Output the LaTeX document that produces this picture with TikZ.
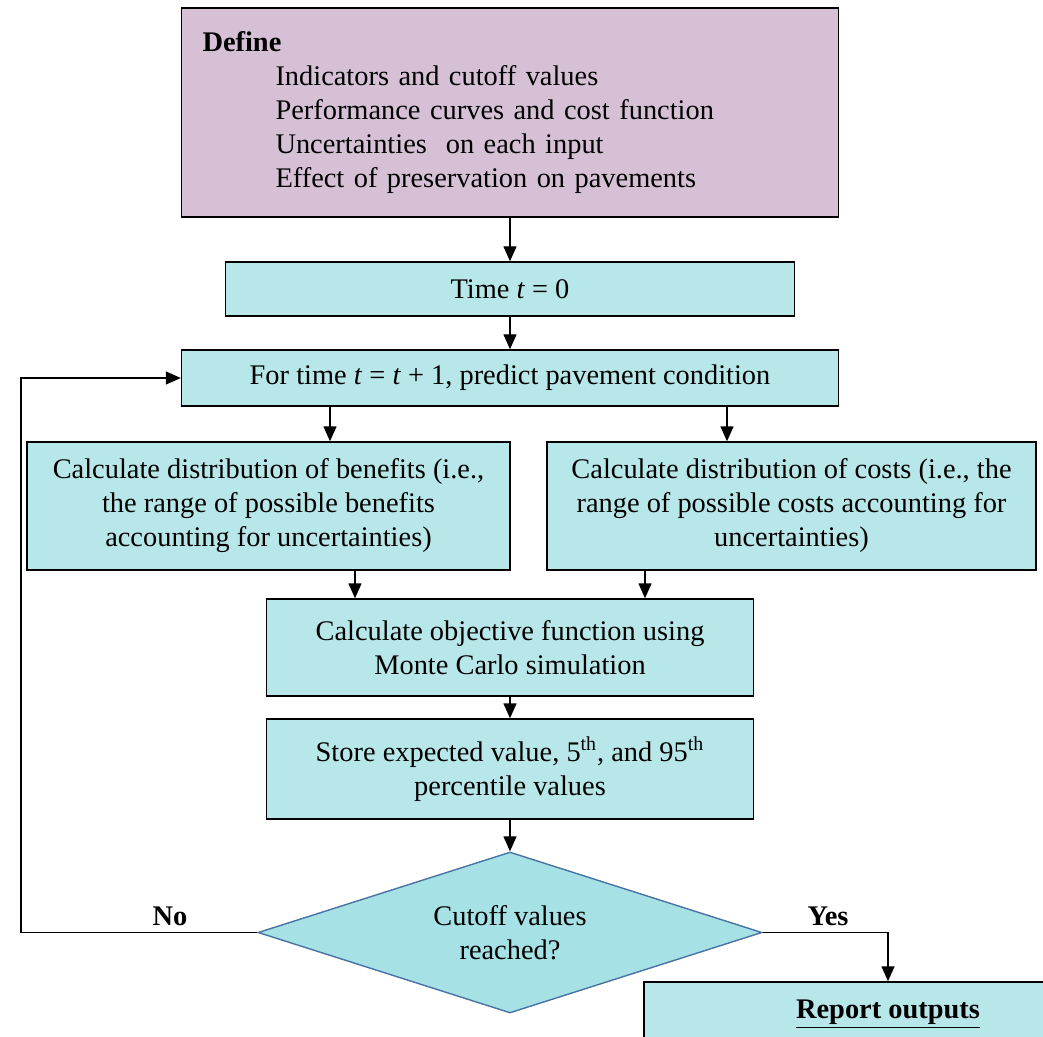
\documentclass[tikz,border=0pt]{standalone}
\usepackage{fontspec}
\setmainfont{Liberation Serif}
\usepackage{xcolor}
\usetikzlibrary{shapes.geometric,arrows.meta}

\definecolor{boxcyan}{RGB}{184,231,234}
\definecolor{definepurple}{RGB}{213,192,214}
\definecolor{decidecyan}{RGB}{166,225,230}
\definecolor{decideedge}{RGB}{72,115,162}

\begin{document}
\begin{tikzpicture}[x=0.5pt,y=-0.5pt,
		line width=0.7pt,
		>={Triangle[length=7.5pt,width=6.5pt]},
		font=\fontsize{14.2}{17}\selectfont,
		box/.style={draw, fill=boxcyan, align=center, inner sep=0pt},
		decide/.style={draw=decideedge, fill=decidecyan, shape=diamond,
			aspect=3, inner sep=0pt, align=center},
		lbl/.style={font=\fontsize{14.2}{17}\selectfont\bfseries}]
			\useasboundingbox (0,0) rectangle (1043,1037);
		
			\node[box, fill=definepurple, minimum width=328.5pt, minimum height=104.5pt,
				text width=307.5pt, align=left] (define) at (510,112.5)
				{\textbf{Define}\\
				\hspace*{36.5pt}Indicators and cutoff values\\
				\hspace*{36.5pt}Performance curves and cost function\\
				\hspace*{36.5pt}Uncertainties\ \ on each input\\
				\hspace*{36.5pt}Effect of preservation on pavements};
			\node[box, minimum width=284.5pt, minimum height=27pt] (time) at (510,289) {Time \textit{t} = 0};
			\node[box, minimum width=328.5pt, minimum height=28pt] (fortime) at (510,378)
				{For time \textit{t} = \textit{t} + 1, predict pavement condition};
		
			\node[box, minimum width=241.5pt, minimum height=64pt] (benefits) at (268.5,506)
				{Calculate distribution of benefits (i.e.,\\ the range of possible benefits\\ accounting for uncertainties)};
			\node[box, minimum width=244.5pt, minimum height=64pt] (costs) at (791.5,506)
				{Calculate distribution of costs (i.e., the\\ range of possible costs accounting for\\ uncertainties)};
		
			\node[box, minimum width=243.5pt, minimum height=48.5pt] (objective) at (510,647.5)
				{Calculate objective function using\\ Monte Carlo simulation};
			\node[box, minimum width=243.5pt, minimum height=50pt] (store) at (510,769)
				{Store expected value, 5\textsuperscript{th}, and 95\textsuperscript{th}\\ percentile values};
		
			\node[decide, minimum width=252pt, minimum height=80.5pt] (cutoff) at (510,932.5)
				{Cutoff values\\ reached?};
			\node[box, minimum width=244pt, minimum height=32pt] (report) at (888,1014)
				{\textbf{\underline{Report outputs}}};
		
			\node[lbl] (no) at (170,916) {No};
			\node[lbl] (yes) at (828,916) {Yes};
		
			\draw[->] (define) to (time);
			\draw[->] (time) to (fortime);
			\draw[->] (330,0 |- fortime.south) to (330,0 |- benefits.north);
			\draw[->] (727,0 |- fortime.south) to (727,0 |- costs.north);
			\draw[->] (355,0 |- benefits.south) to (355,0 |- objective.north);
			\draw[->] (645,0 |- costs.south) to (645,0 |- objective.north);
			\draw[->] (objective) to (store);
			\draw[->] (store) to (cutoff);
			\draw[->] (cutoff.west) -- (21,0 |- cutoff.west) |- (fortime.west);
			\draw[->] (cutoff.east) -| (report.north);
		\end{tikzpicture}
\end{document}
